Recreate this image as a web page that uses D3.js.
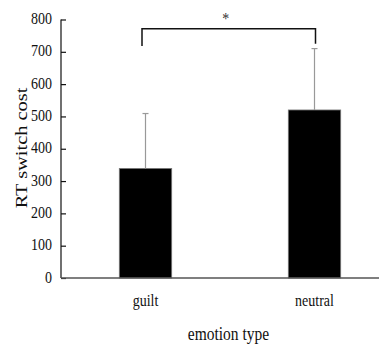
<!DOCTYPE html>
<html>
<head>
<meta charset="utf-8">
<script src="https://cdn.jsdelivr.net/npm/d3@7"></script>
<style>
  body { margin: 0; background: #fff; }
  svg { display: block; font-family: "Liberation Serif", "Times New Roman", serif; }
</style>
</head>
<body>
<svg id="chart" width="379" height="347"></svg>
<script>
const categories = ['guilt', 'neutral'];
const means = [339, 520];
const errors = [170, 190];
const yTicks = [0, 100, 200, 300, 400, 500, 600, 700, 800];
const sigPair = ['guilt', 'neutral'];
const sigLabel = '*';

const svg = d3.select('#chart');
const stretch = 1.2; // source picture is stretched vertically

const x = d3.scaleBand()
  .domain(categories)
  .range([61, 399])
  .paddingInner(0.69)
  .paddingOuter(0.345);

const y = d3.scaleLinear()
  .domain([0, 800])
  .range([278, 19.5]);

// y axis
const yAxis = svg.append('g')
  .attr('transform', 'translate(61,0)')
  .call(d3.axisRight(y).tickValues(yTicks).tickSize(5).tickFormat(''));
yAxis.select('.domain').attr('stroke', '#111').attr('stroke-width', 1.2).attr('d', `M0,${y(800)}V${y(0)}`);
yAxis.selectAll('.tick line').attr('stroke', '#111').attr('stroke-width', 1.2);

svg.append('g').selectAll('text')
  .data(yTicks)
  .enter()
  .append('text')
  .attr('transform', d => `translate(52,${y(d) + 4.5}) scale(1,${stretch})`)
  .attr('text-anchor', 'end')
  .attr('font-size', 14)
  .attr('fill', '#111')
  .text(d => d);

// bars
svg.selectAll('.bar')
  .data(categories)
  .enter()
  .append('rect')
  .attr('class', 'bar')
  .attr('x', d => x(d))
  .attr('y', (d, i) => y(means[i]))
  .attr('width', x.bandwidth())
  .attr('height', (d, i) => y(0) - y(means[i]))
  .attr('fill', '#000')
  .attr('stroke', '#777')
  .attr('stroke-width', 0.8);

// error bars (upper only)
const eb = svg.append('g').attr('stroke', '#999').attr('stroke-width', 1.2);
categories.forEach((c, i) => {
  const cx = x(c) + x.bandwidth() / 2;
  eb.append('line')
    .attr('x1', cx).attr('x2', cx)
    .attr('y1', y(means[i])).attr('y2', y(means[i] + errors[i]));
  eb.append('line')
    .attr('x1', cx - 3).attr('x2', cx + 3)
    .attr('y1', y(means[i] + errors[i])).attr('y2', y(means[i] + errors[i]));
});

// x axis
svg.append('line')
  .attr('x1', 61).attr('x2', 379)
  .attr('y1', y(0)).attr('y2', y(0))
  .attr('stroke', '#555')
  .attr('stroke-width', 1.5);

svg.append('g').selectAll('text')
  .data(categories)
  .enter()
  .append('text')
  .attr('transform', d => `translate(${x(d) + x.bandwidth() / 2},306) scale(1,${stretch})`)
  .attr('text-anchor', 'middle')
  .attr('font-size', 14)
  .attr('fill', '#111')
  .text(d => d);

// significance bracket
const bx1 = x(sigPair[0]) + x.bandwidth() / 2 - 3.5;
const bx2 = x(sigPair[1]) + x.bandwidth() / 2 + 1;
const by = y(771);
svg.append('path')
  .attr('d', `M${bx1},${y(718)}V${by}H${bx2}V${y(725)}`)
  .attr('fill', 'none')
  .attr('stroke', '#111')
  .attr('stroke-width', 1.5);
svg.append('text')
  .attr('transform', `translate(${(bx1 + bx2) / 2 - 3},${by - 4.5}) scale(1,${stretch})`)
  .attr('text-anchor', 'middle')
  .attr('font-size', 14)
  .attr('fill', '#333')
  .text(sigLabel);

// axis titles
svg.append('text')
  .attr('transform', `translate(228.5,340) scale(1,${stretch})`)
  .attr('text-anchor', 'middle')
  .attr('font-size', 15.5)
  .attr('fill', '#111')
  .text('emotion type');

svg.append('text')
  .attr('transform', `translate(27,148) scale(1,${stretch}) rotate(-90)`)
  .attr('text-anchor', 'middle')
  .attr('font-size', 17)
  .attr('fill', '#111')
  .text('RT switch cost');
</script>
</body>
</html>
